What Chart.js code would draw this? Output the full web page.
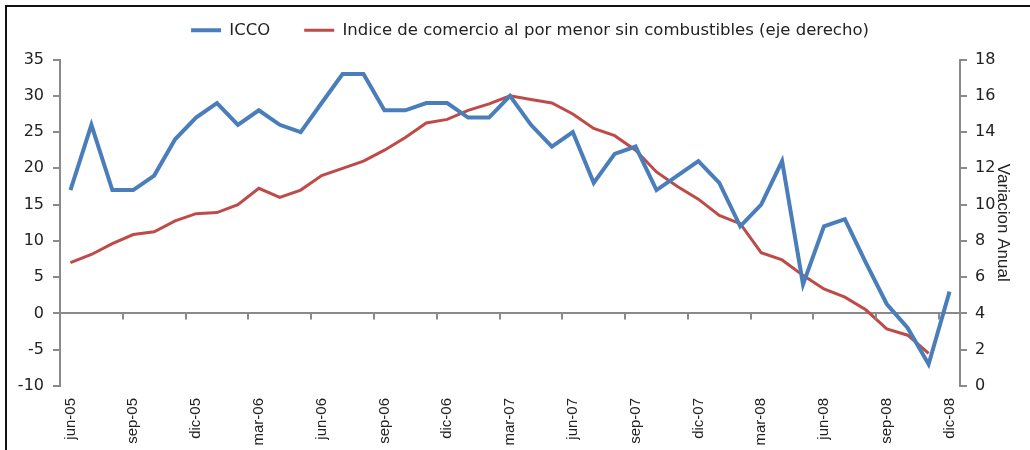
<!DOCTYPE html>
<html>
<head>
<meta charset="utf-8">
<script src="https://cdn.jsdelivr.net/npm/chart.js@4.4.0/dist/chart.umd.min.js"></script>
<style>
  html, body { margin: 0; padding: 0; background: #fff; overflow: hidden; }
  #wrap { position: absolute; left: 0; top: 0; width: 1030px; height: 450px; }
  #frame { position: absolute; left: 5px; top: 5px; width: 1040px; height: 470px; border: 2px solid #111; pointer-events: none; }
</style>
</head>
<body>
<div id="wrap"><canvas id="chart" width="1030" height="450"></canvas></div>
<div id="frame"></div>
<script>
const months = [
  'jun-05','jul-05','ago-05','sep-05','oct-05','nov-05','dic-05',
  'ene-06','feb-06','mar-06','abr-06','may-06','jun-06','jul-06','ago-06','sep-06','oct-06','nov-06','dic-06',
  'ene-07','feb-07','mar-07','abr-07','may-07','jun-07','jul-07','ago-07','sep-07','oct-07','nov-07','dic-07',
  'ene-08','feb-08','mar-08','abr-08','may-08','jun-08','jul-08','ago-08','sep-08','oct-08','nov-08','dic-08'
];

// ICCO, eje izquierdo
const icco = [17, 26, 17, 17, 19, 24, 27, 29, 26, 28, 26, 25, 29, 33, 33, 28, 28, 29, 29, 27, 27,
  30, 26, 23, 25, 18, 22, 23, 17, 19, 21, 18, 12, 15, 21, 4, 12, 13, 7, 1.3, -2, -7, 3];

// comercio al por menor sin combustibles, eje derecho (variacion anual)
const retail = [6.8, 7.25, 7.85, 8.35, 8.5, 9.1, 9.5, 9.56, 10.0, 10.9, 10.4, 10.8, 11.6, 12.0, 12.4,
  13.0, 13.7, 14.5, 14.7, 15.2, 15.55, 16.0, 15.8, 15.6, 15.0, 14.2, 13.8, 13.0, 11.8, 11.0, 10.3,
  9.4, 8.95, 7.35, 6.95, 6.1, 5.35, 4.9, 4.2, 3.15, 2.8, 1.8, null];

const axisGray = '#8a8a8a';

// small tick marks hanging under the zero line, one every 3 months
const zeroTicks = {
  id: 'zeroTicks',
  afterDatasetsDraw(chart) {
    const x = chart.scales.x, y = chart.scales.y;
    const y0 = y.getPixelForValue(0);
    const half = (x.getPixelForValue(1) - x.getPixelForValue(0)) / 2;
    const ctx = chart.ctx;
    ctx.save();
    ctx.strokeStyle = axisGray;
    ctx.lineWidth = 2;
    ctx.beginPath();
    for (let i = 3; i < months.length; i += 3) {
      const px = Math.round(x.getPixelForValue(i) - half);
      ctx.moveTo(px, y0);
      ctx.lineTo(px, y0 + 6);
    }
    ctx.stroke();
    ctx.restore();
  }
};

new Chart(document.getElementById('chart'), {
  type: 'line',
  data: {
    labels: months,
    datasets: [
      {
        label: 'ICCO',
        data: icco,
        yAxisID: 'y',
        borderColor: '#4a7ebb',
        backgroundColor: '#4a7ebb',
        borderWidth: 4,
        pointRadius: 0,
        tension: 0,
        pointStyle: 'line'
      },
      {
        label: 'Indice de comercio al por menor sin combustibles (eje derecho)',
        data: retail,
        yAxisID: 'y2',
        borderColor: '#be4b48',
        backgroundColor: '#be4b48',
        borderWidth: 3,
        pointRadius: 0,
        tension: 0,
        pointStyle: 'line'
      }
    ]
  },
  options: {
    responsive: false,
    animation: false,
    events: [],
    // negative right padding pushes the legend centre over to match the original
    layout: { padding: { top: -12, left: 0, right: -30, bottom: 0 } },
    plugins: {
      tooltip: { enabled: false },
      legend: {
        position: 'top',
        labels: {
          usePointStyle: true,
          pointStyleWidth: 30,
          padding: 34,
          color: '#222',
          font: { family: 'DejaVu Sans', size: 16.5 }
        }
      }
    },
    scales: {
      x: {
        offset: true,
        grid: { display: false },
        border: { display: false },
        ticks: {
          autoSkip: false,
          minRotation: 90,
          maxRotation: 90,
          padding: 4,
          color: '#222',
          font: { family: 'Liberation Sans', size: 15 },
          callback: (v, i) => (i % 3 === 0 ? months[i] : '')
        },
        afterFit: s => { s.height = 64; }
      },
      // empty spacer between the legend and the plot
      xTop: {
        type: 'category',
        position: 'top',
        grid: { display: false },
        border: { display: false },
        ticks: { display: false },
        afterFit: s => { s.height = 11; }
      },
      y: {
        position: 'left',
        min: -10,
        max: 35,
        ticks: { stepSize: 5, padding: 9, color: '#222', font: { family: 'DejaVu Sans', size: 16 } },
        grid: {
          drawTicks: true,
          tickLength: 7,
          lineWidth: 2,
          color: c => (c.tick && c.tick.value === 0 ? axisGray : 'rgba(0,0,0,0)'),
          tickColor: axisGray
        },
        border: { display: true, color: axisGray, width: 2 },
        afterFit: s => { s.width = 60; }
      },
      y2: {
        position: 'right',
        min: 0,
        max: 18,
        ticks: { stepSize: 2, padding: 8, color: '#222', font: { family: 'DejaVu Sans', size: 16 } },
        grid: { drawOnChartArea: false, tickLength: 7, lineWidth: 2, color: axisGray },
        border: { display: true, color: axisGray, width: 2 },
        title: {
          display: true,
          text: 'Variacion Anual',
          color: '#222',
          padding: { top: 47, bottom: 4 },
          font: { family: 'Liberation Sans', size: 17 }
        },
        afterFit: s => { s.width = 100; }
      }
    }
  },
  plugins: [zeroTicks]
});
</script>
</body>
</html>
